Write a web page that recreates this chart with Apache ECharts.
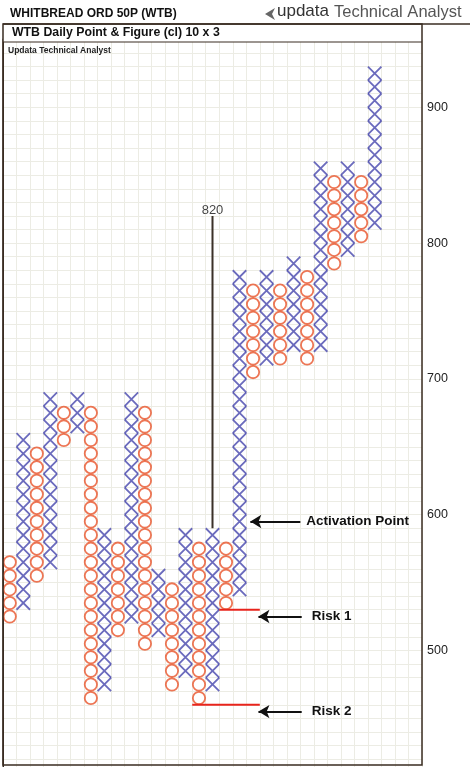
<!DOCTYPE html>
<html>
<head>
<meta charset="utf-8">
<title>WTB Daily Point & Figure</title>
<script src="https://cdn.jsdelivr.net/npm/echarts@6/dist/echarts.min.js"></script>
<style>
    html, body { margin: 0; padding: 0; background: #fff; }
    #pnf { width: 470px; height: 767px; }
</style>
</head>
<body>
<div id="pnf"></div>
<script>
// 10 x 3 point & figure, one entry per column (low / high box)
var boxSize = 10;
var colTypes = ['O', 'X', 'O', 'X', 'O', 'X', 'O', 'X', 'O', 'X', 'O', 'X', 'O', 'X',
    'O', 'X', 'O', 'X', 'O', 'X', 'O', 'X', 'O', 'X', 'O', 'X', 'O', 'X'];
var colLows = [520, 530, 550, 560, 650, 660, 460, 470, 510, 520, 500, 510, 470, 480,
    460, 470, 530, 540, 700, 710, 710, 720, 710, 720, 780, 790, 800, 810];
var colHighs = [560, 650, 640, 680, 670, 680, 670, 580, 570, 680, 670, 550, 540, 580,
    570, 580, 570, 770, 760, 770, 760, 780, 770, 850, 840, 850, 840, 920];

var yLabels = [500, 600, 700, 800, 900];

// vertical count
var countColumn = 15;
var countBase = 590;
var countTarget = 820;

// risk levels and where their lines start / end (column boundaries)
var riskLevels = [530, 460];
var riskNames = ['Risk 1', 'Risk 2'];
var riskStartCols = [16, 14];
var riskEndCol = 19;

var activationLevel = 590;

var FONT = 'Liberation Sans, Arial, sans-serif';

var pnf_chart = {
    build_boxes: function () {
        var xs = [], os = [];
        colTypes.forEach(function (t, i) {
            for (var v = colLows[i]; v <= colHighs[i]; v += boxSize) {
                (t === 'X' ? xs : os).push([i + 0.5, v + boxSize / 2]);
            }
        });
        return {xs: xs, os: os};
    },

    render: function () {
        var myChart = echarts.init(document.getElementById('pnf'));
        var boxes = pnf_chart.build_boxes();

        var arrowLines = [
            {y: activationLevel + boxSize / 2, tail: 22.0, tip: 18.3, text: 'Activation Point', dist: 6},
            {y: riskLevels[0] - 5, tail: 22.1, tip: 18.9, text: riskNames[0], dist: 10},
            {y: riskLevels[1] - 5, tail: 22.1, tip: 18.9, text: riskNames[1], dist: 10}
        ];

        var option = {
            backgroundColor: '#fff',
            animation: false,
            grid: {
                left: 3,
                width: 419,
                top: 39.4,
                height: 733.3,
                outerBoundsMode: 'none',
                containLabel: false
            },
            xAxis: {
                type: 'value',
                min: 0,
                max: 31,
                interval: 1,
                axisLine: {show: false},
                axisTick: {show: false},
                axisLabel: {show: false},
                splitLine: {show: true, lineStyle: {color: '#ececE4', width: 1}}
            },
            yAxis: {
                type: 'value',
                position: 'right',
                min: 410,
                max: 950,
                interval: 10,
                axisLine: {show: true, lineStyle: {color: '#3a2c22', width: 2}},
                axisTick: {show: true, inside: true, length: 4, lineStyle: {color: '#222', width: 1.5}},
                axisLabel: {
                    show: true,
                    margin: 5,
                    color: '#222',
                    fontSize: 12.5,
                    fontFamily: FONT,
                    padding: [0, 0, 8, 0],
                    formatter: function (v) {
                        return yLabels.indexOf(v) >= 0 ? String(v) : '';
                    }
                },
                splitLine: {show: true, lineStyle: {color: '#ececE4', width: 1}}
            },
            graphic: [
                {type: 'rect', z: 50, shape: {x: 3, y: 24, width: 419, height: 18}, style: {fill: '#fff'}},
                {type: 'rect', z: 50, shape: {x: 0, y: 0, width: 470, height: 24}, style: {fill: '#fff'}},
                {type: 'rect', z: 50, shape: {x: 0, y: 24, width: 2.5, height: 743}, style: {fill: '#fff'}},
                {type: 'rect', z: 60, shape: {x: 3, y: 24, width: 419, height: 741},
                    style: {fill: 'none', stroke: '#3a2c22', lineWidth: 1.5}},
                {type: 'line', z: 60, shape: {x1: 3, y1: 24, x2: 470, y2: 24},
                    style: {stroke: '#3a2c22', lineWidth: 1.5}},
                {type: 'line', z: 60, shape: {x1: 3, y1: 42, x2: 422, y2: 42},
                    style: {stroke: '#3a2c22', lineWidth: 1.2}},
                {type: 'text', z: 60, left: 10, top: 8,
                    style: {text: 'WHITBREAD ORD 50P (WTB)', font: 'bold 12px ' + FONT, fill: '#111'}},
                {type: 'polygon', z: 60, shape: {points: [[265, 14], [275, 8], [272, 14], [275, 20]]},
                    style: {fill: '#666'}},
                {type: 'text', z: 60, left: 277, top: 3,
                    style: {text: 'updata', font: '17px ' + FONT, fill: '#333'}},
                {type: 'text', z: 60, left: 334, top: 4,
                    style: {text: 'Technical Analyst', font: '16.5px ' + FONT, fill: '#555'}},
                {type: 'text', z: 60, left: 12, top: 27,
                    style: {text: 'WTB Daily Point & Figure (cl) 10 x 3', font: 'bold 12.3px ' + FONT, fill: '#111'}},
                {type: 'text', z: 60, left: 8, top: 46,
                    style: {text: 'Updata Technical Analyst', font: 'bold 8.5px ' + FONT, fill: '#222'}}
            ],
            series: [
                {
                    name: 'X',
                    type: 'scatter',
                    symbol: 'path://M0,0L10,10M10,0L0,10',
                    symbolSize: [13.5, 13.6],
                    itemStyle: {color: 'none', borderColor: '#4646ac', borderWidth: 1.8},
                    data: boxes.xs,
                    z: 3
                },
                {
                    name: 'O',
                    type: 'scatter',
                    symbol: 'circle',
                    symbolSize: 12.3,
                    itemStyle: {color: '#fff', borderColor: '#e8542a', borderWidth: 1.8},
                    data: boxes.os,
                    z: 3
                },
                {
                    name: 'count',
                    type: 'line',
                    symbol: 'none',
                    lineStyle: {color: '#3b3128', width: 2},
                    data: [[countColumn + 0.5, countBase], [countColumn + 0.5, countTarget]],
                    z: 4
                },
                {
                    name: 'target',
                    type: 'scatter',
                    symbolSize: 1,
                    itemStyle: {color: 'transparent'},
                    label: {
                        show: true,
                        position: 'top',
                        distance: -1,
                        color: '#111',
                        fontSize: 13,
                        fontFamily: FONT,
                        formatter: function (p) { return String(p.value[1]); }
                    },
                    data: [[countColumn + 0.5, countTarget]],
                    z: 5
                },
                {
                    name: riskNames[0],
                    type: 'line',
                    symbol: 'none',
                    lineStyle: {color: '#e8241c', width: 2},
                    data: [[riskStartCols[0], riskLevels[0]], [riskEndCol, riskLevels[0]]],
                    z: 4
                },
                {
                    name: riskNames[1],
                    type: 'line',
                    symbol: 'none',
                    lineStyle: {color: '#e8241c', width: 2},
                    data: [[riskStartCols[1], riskLevels[1]], [riskEndCol, riskLevels[1]]],
                    z: 4
                },
                {
                    name: 'arrows',
                    type: 'line',
                    data: [],
                    markLine: {
                        silent: true,
                        animation: false,
                        symbol: ['none', 'arrow'],
                        symbolSize: [10, 11],
                        lineStyle: {color: '#111', width: 2, type: 'solid'},
                        data: arrowLines.map(function (a) {
                            return [
                                {coord: [a.tail, a.y], label: {
                                    show: true, position: 'start', distance: a.dist,
                                    formatter: a.text, color: '#111',
                                    fontSize: 13.5, fontWeight: 'bold', fontFamily: FONT
                                }},
                                {coord: [a.tip, a.y]}
                            ];
                        })
                    }
                }
            ]
        };

        myChart.setOption(option);

        window.addEventListener('resize', function () {
            myChart.resize();
        });
    }
};

pnf_chart.render();
</script>
</body>
</html>
